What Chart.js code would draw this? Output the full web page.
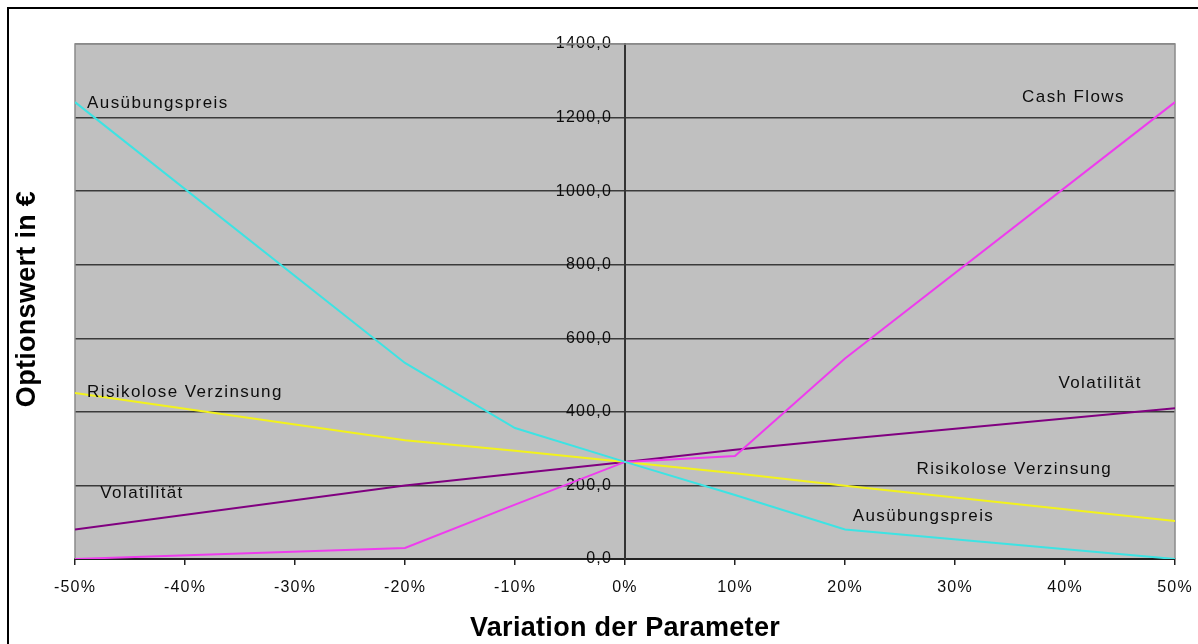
<!DOCTYPE html>
<html lang="de">
<head>
<meta charset="utf-8">
<title>Optionswert – Sensitivität</title>
<script src="https://cdn.jsdelivr.net/npm/chart.js@4/dist/chart.umd.min.js"></script>
<style>
  html, body { margin: 0; padding: 0; background: #fff; overflow: hidden; }
  #rahmen {
    position: absolute; left: 7px; top: 7px;
    width: 1300px; height: 800px;
    border-left: 2px solid #000; border-top: 2px solid #000;
  }
  #sensitivitaet { position: absolute; left: 0; top: 0; }
</style>
</head>
<body>
<div id="rahmen"></div>
<canvas id="sensitivitaet" width="1198" height="644"></canvas>
<script>
// Variation der Parameter in %
const variation = [-50, -20, -10, 0, 10, 20, 50];

// Optionswert in € je Parameter
const ausuebungspreis = [1242, 533, 356, 264, 174, 80, 0];
const cashFlows = [0, 30, 148, 264, 280, 545, 1242];
const risikoloseVerzinsung = [451, 323, 294, 264, 233, 199, 103];
const volatilitaet = [80, 200, 232, 264, 297, 326, 410];

const yTicks = [0, 200, 400, 600, 800, 1000, 1200, 1400];

// Beschriftungen direkt an den Kurven (x in %, y in €)
const kurvenTexte = [
  { text: 'Ausübungspreis', x: -48.9, y: 1240 },
  { text: 'Cash Flows', x: 36.1, y: 1254 },
  { text: 'Risikolose Verzinsung', x: -48.9, y: 452 },
  { text: 'Volatilität', x: -47.7, y: 178 },
  { text: 'Volatilität', x: 39.4, y: 478 },
  { text: 'Risikolose Verzinsung', x: 26.5, y: 244 },
  { text: 'Ausübungspreis', x: 20.7, y: 115 }
];

const schrift = '"Liberation Sans", Arial, sans-serif';

function punkte(werte) {
  return variation.map((v, i) => ({ x: v, y: werte[i] }));
}

function linie(label, werte, farbe) {
  return {
    label: label,
    data: punkte(werte),
    borderColor: farbe,
    backgroundColor: farbe,
    borderWidth: 2,
    showLine: true,
    pointRadius: 0,
    tension: 0
  };
}

const diagrammPlugin = {
  id: 'excelLook',
  beforeDraw(chart) {
    const { ctx, chartArea: a } = chart;
    ctx.save();
    ctx.fillStyle = '#c0c0c0';
    ctx.fillRect(a.left, a.top, a.right - a.left, a.bottom - a.top);
    ctx.restore();
    ctx.letterSpacing = '1.2px';
  },
  beforeDatasetsDraw(chart) {
    const { ctx, chartArea: a } = chart;
    ctx.save();
    ctx.strokeStyle = '#8a8a8a';
    ctx.lineWidth = 1.5;
    ctx.beginPath();
    ctx.moveTo(a.left, a.bottom);
    ctx.lineTo(a.left, a.top);
    ctx.lineTo(a.right, a.top);
    ctx.lineTo(a.right, a.bottom);
    ctx.stroke();
    ctx.restore();
  },
  afterDatasetsDraw(chart) {
    const { ctx, scales } = chart;
    ctx.save();
    ctx.letterSpacing = '1.4px';
    ctx.font = '17px ' + schrift;
    ctx.fillStyle = '#0d0d0d';
    ctx.textAlign = 'left';
    ctx.textBaseline = 'middle';
    kurvenTexte.forEach(t => {
      ctx.fillText(t.text, scales.x.getPixelForValue(t.x), scales.y.getPixelForValue(t.y));
    });
    ctx.restore();
  },
  afterDraw(chart) {
    const { ctx, chartArea: a } = chart;
    ctx.save();
    ctx.letterSpacing = '0.3px';
    ctx.font = 'bold 27px ' + schrift;
    ctx.fillStyle = '#000';
    ctx.textAlign = 'center';
    ctx.textBaseline = 'middle';
    ctx.fillText('Variation der Parameter', (a.left + a.right) / 2, 629);
    ctx.translate(28, 299);
    ctx.rotate(-Math.PI / 2);
    ctx.fillText('Optionswert in €', 0, 0);
    ctx.restore();
    ctx.letterSpacing = '0px';
  }
};

new Chart(document.getElementById('sensitivitaet'), {
  type: 'scatter',
  data: {
    datasets: [
      linie('Ausübungspreis', ausuebungspreis, '#3de3e3'),
      linie('Cash Flows', cashFlows, '#ee3cee'),
      linie('Risikolose Verzinsung', risikoloseVerzinsung, '#f2f21c'),
      linie('Volatilität', volatilitaet, '#800080')
    ]
  },
  options: {
    responsive: false,
    animation: false,
    devicePixelRatio: 1,
    layout: { padding: { left: 75, top: 44, right: 23, bottom: 0 } },
    plugins: {
      legend: { display: false },
      tooltip: { enabled: false }
    },
    scales: {
      x: {
        type: 'linear',
        position: 'bottom',
        min: variation[0],
        max: variation[variation.length - 1],
        ticks: {
          stepSize: 10,
          callback: v => v + '%',
          color: '#0d0d0d',
          font: { family: schrift, size: 16 },
          padding: 13,
          maxRotation: 0
        },
        grid: { drawOnChartArea: false, tickLength: 6, color: '#222', lineWidth: 1.5 },
        border: { color: '#222', width: 2 },
        // feste Höhe, Randabstand kommt allein aus layout.padding
        afterFit: s => {
          s.height = 85;
          s.paddingLeft = 0;
          s.paddingRight = 0;
        }
      },
      y: {
        position: 'center',
        min: yTicks[0],
        max: yTicks[yTicks.length - 1],
        afterBuildTicks: s => { s.ticks = yTicks.map(v => ({ value: v })); },
        ticks: {
          callback: v => v.toFixed(1).replace('.', ','),
          color: '#0d0d0d',
          font: { family: schrift, size: 16 }
        },
        grid: {
          color: c => (c.tick && c.tick.value === 1400) ? '#8a8a8a' : '#3a3a3a',
          lineWidth: 1.5,
          tickLength: 10,
          tickColor: 'transparent'
        },
        border: { color: '#333', width: 2 },
        afterFit: s => { s.width = 0; }
      }
    }
  },
  plugins: [diagrammPlugin]
});
</script>
</body>
</html>
